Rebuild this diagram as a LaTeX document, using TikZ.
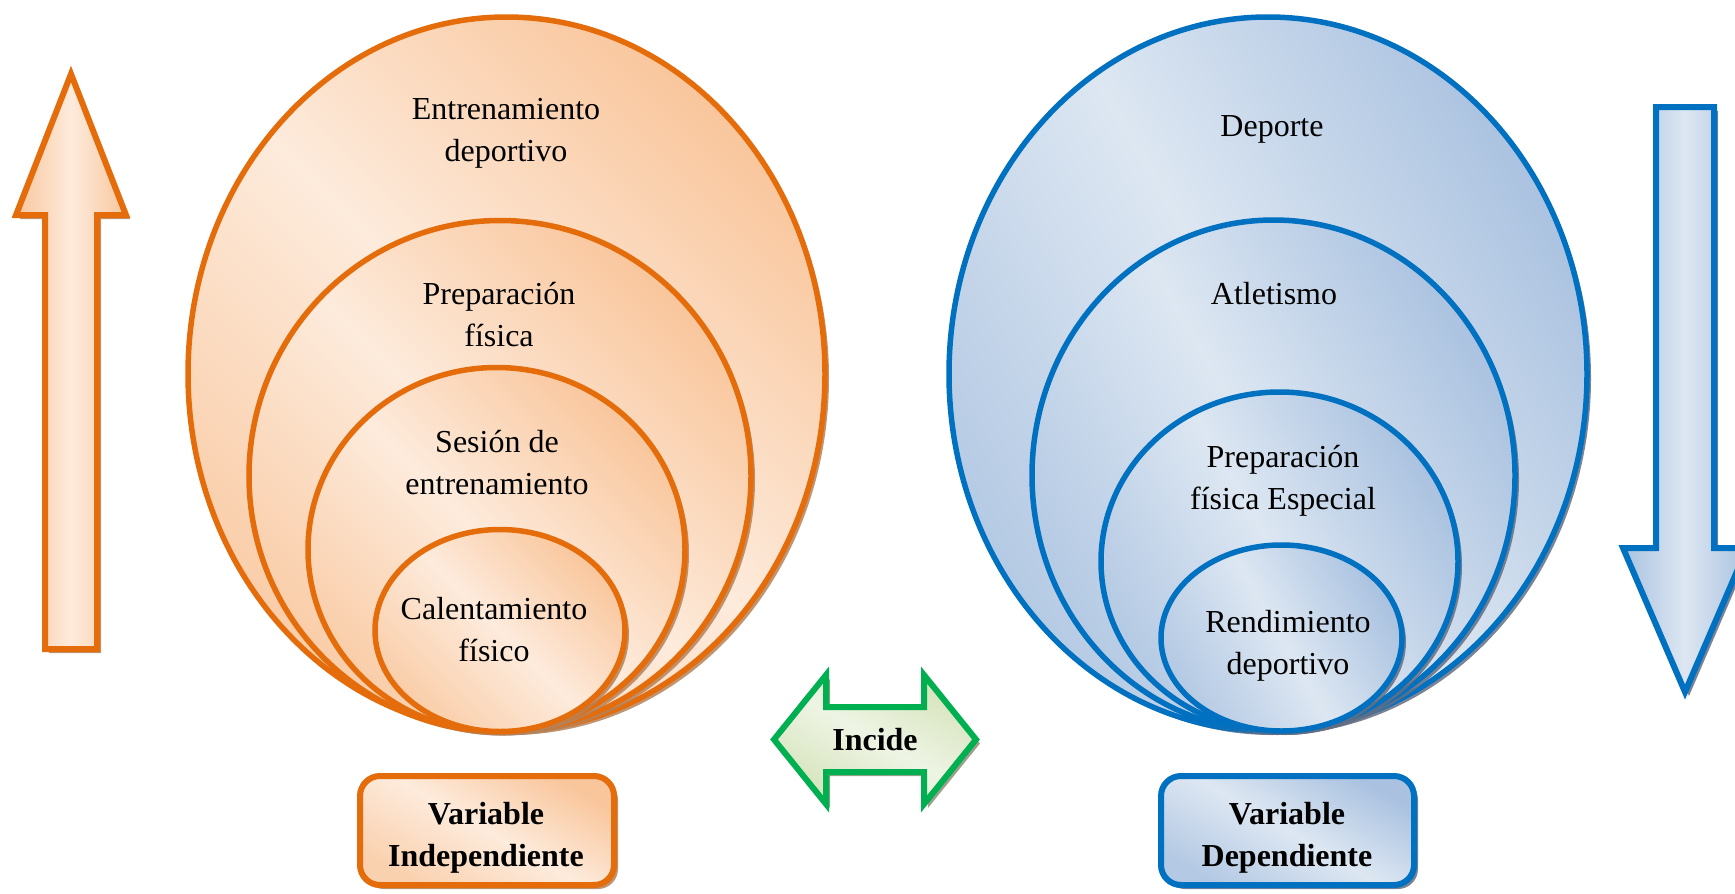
\documentclass[tikz,border=0pt]{standalone}
\usepackage{fontspec}
\setmainfont{Liberation Serif}
\usetikzlibrary{shapes.geometric,shadows}
\definecolor{oline}{HTML}{E46C0A}
\definecolor{odark}{RGB}{249,198,156}
\definecolor{olight}{RGB}{253,235,220}
\definecolor{oshad}{RGB}{180,130,90}
\definecolor{bline}{HTML}{0070C0}
\definecolor{bdark}{RGB}{170,194,224}
\definecolor{blight}{RGB}{221,231,242}
\definecolor{bshad}{RGB}{100,110,130}
\definecolor{gline}{HTML}{00B050}
\definecolor{gdark}{RGB}{214,228,188}
\definecolor{glight}{RGB}{238,244,228}
\definecolor{gshad}{RGB}{140,145,120}
\begin{document}
\begin{tikzpicture}[x=1pt,y=-1pt,
  txt/.style={font=\fontsize{32}{42}\selectfont, align=center, inner sep=0pt},
  btxt/.style={font=\fontsize{32}{42}\selectfont\bfseries, align=center, inner sep=0pt},
  oshadow/.style={drop shadow={shadow xshift=4pt,shadow yshift=-4pt,fill=oshad,opacity=.85}},
  bshadow/.style={drop shadow={shadow xshift=4pt,shadow yshift=-4pt,fill=bshad,opacity=.85}},
  gshadow/.style={drop shadow={shadow xshift=4pt,shadow yshift=-4pt,fill=gshad,opacity=.85}},
  oell/.style={ellipse, draw=oline, line width=5.5pt, inner sep=0pt, oshadow,
    top color=odark, bottom color=odark!80!olight, middle color=olight, shading angle=-45},
  bell/.style={ellipse, draw=bline, line width=5.5pt, inner sep=0pt, bshadow,
    top color=bdark, bottom color=bdark!80!blight, middle color=blight, shading angle=-60},
  obox/.style={rectangle, rounded corners=20pt, draw=oline, line width=6pt, oshadow,
    top color=odark, bottom color=odark!70!olight, middle color=olight, shading angle=-30},
  bbox/.style={rectangle, rounded corners=20pt, draw=bline, line width=6pt, bshadow,
    top color=bdark, bottom color=bdark!80!blight, middle color=blight, shading angle=-30},
]
\useasboundingbox (0,0) rectangle (1735,894);

% left arrow (up)
\filldraw[draw=oline, line width=6pt, line join=miter, oshadow,
  left color=odark, right color=odark, middle color=olight]
  (71,74) -- (126,215) -- (97,215) -- (97,649) -- (45,649) -- (45,215) -- (16,215) -- cycle;

% right arrow (down)
\filldraw[draw=bline, line width=6pt, line join=miter, bshadow,
  left color=bdark, right color=bdark, middle color=blight]
  (1656,107) -- (1714,107) -- (1714,548) -- (1747,548) -- (1685,692) -- (1623,548) -- (1656,548) -- cycle;

% left ellipses
\node[oell, minimum width=637pt, minimum height=714pt] (lo) at (506.5,374) {};
\node[oell, minimum width=502pt, minimum height=511pt] (l2) at (500,476) {};
\node[oell, minimum width=377pt, minimum height=364pt] (l3) at (496.5,549.5) {};
\node[oell, minimum width=250pt, minimum height=202pt] (l4) at (500,630.5) {};

% right ellipses
\node[bell, minimum width=638pt, minimum height=714pt] (ro) at (1268,374) {};
\node[bell, minimum width=483pt, minimum height=511pt] (r2) at (1273.5,475.5) {};
\node[bell, minimum width=357pt, minimum height=339pt] (r3) at (1279.5,561.5) {};
\node[bell, minimum width=241pt, minimum height=186pt] (r4) at (1281.5,638) {};

% texts left
\node[txt] (tl1) at (506,133) {Entrenamiento\\deportivo};
\node[txt] (tl2) at (499,314.5) {Preparación\\física};
\node[txt] (tl3) at (497,462.5) {Sesión de\\entrenamiento};
\node[txt] (tl4) at (494,630) {Calentamiento\\físico};

% texts right
\node[txt, anchor=base] (tr1) at (1272,136) {Deporte};
\node[txt, anchor=base] (tr2) at (1274,304) {Atletismo};
\node[txt] (tr3) at (1283,481) {Preparación\\física Especial};
\node[txt] (tr4) at (1288,646) {Rendimiento\\deportivo};

% incide arrow
\filldraw[draw=gline, line width=6pt, line join=miter, gshadow,
  top color=gdark, bottom color=gdark, middle color=glight, shading angle=-30]
  (774,739.5) -- (826,675) -- (826,707) -- (924,707) -- (924,675) -- (976,739.5)
  -- (924,804) -- (924,772) -- (826,772) -- (826,804) -- cycle;
\node[btxt, anchor=base] (inc) at (875,750) {Incide};

% boxes
\node[obox, minimum width=254pt, minimum height=109pt] (vi) at (487,830.5) {};
\node[btxt] (vit) at (486,838) {Variable\\Independiente};
\node[bbox, minimum width=253pt, minimum height=109pt] (vd) at (1287.5,830.5) {};
\node[btxt] (vdt) at (1287,838) {Variable\\Dependiente};
\end{tikzpicture}
\end{document}
